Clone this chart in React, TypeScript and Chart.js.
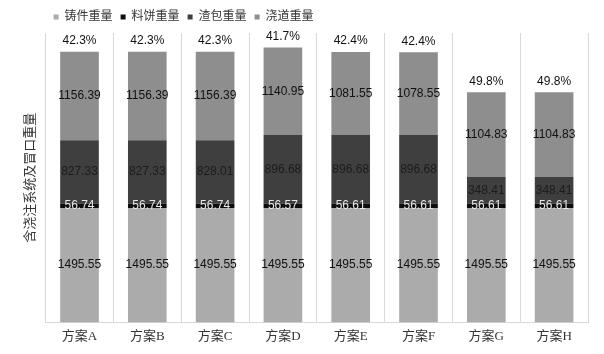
import React, { useEffect, useRef } from "react";
import { Chart, registerables } from "chart.js";

Chart.register(...registerables);

const categories = ["方案A", "方案B", "方案C", "方案D", "方案E", "方案F", "方案G", "方案H"];
const castingWeight = [1495.55, 1495.55, 1495.55, 1495.55, 1495.55, 1495.55, 1495.55, 1495.55];
const biscuitWeight = [56.74, 56.74, 56.74, 56.57, 56.61, 56.61, 56.61, 56.61];
const overflowWeight = [827.33, 827.33, 828.01, 896.68, 896.68, 896.68, 348.41, 348.41];
const runnerWeight = [1156.39, 1156.39, 1156.39, 1140.95, 1081.55, 1078.55, 1104.83, 1104.83];
const yieldLabels = ["42.3%", "42.3%", "42.3%", "41.7%", "42.4%", "42.4%", "49.8%", "49.8%"];
const seriesNames = ["铸件重量", "料饼重量", "渣包重量", "浇道重量"];
const yAxisTitle = "含浇注系统及冒口重量";

const seriesColors = ["#ababab", "#0d0d0d", "#3f3f3f", "#8e8e8e"];
const labelColors = ["#111111", "#e8e8e8", "#1c1c1c", "#111111"];

const serifFamily = '"Liberation Serif", "Times New Roman", "Noto Sans CJK SC", serif';
const legendPadding = 8;

const labelPlugin = {
  id: "segLabels",
  afterDatasetsDraw(chart: any) {
    const ctx = chart.ctx;
    ctx.save();
    ctx.font = '12px "Liberation Sans", Arial, sans-serif';
    ctx.textAlign = "center";
    ctx.textBaseline = "middle";
    chart.data.datasets.forEach((ds: any, di: number) => {
      const meta = chart.getDatasetMeta(di);
      meta.data.forEach((bar: any, i: number) => {
        const p = bar.getProps(["x", "y", "base"], true);
        ctx.fillStyle = labelColors[di];
        ctx.fillText(Number(ds.data[i]).toFixed(2), p.x, (p.y + p.base) / 2);
      });
    });
    const topMeta = chart.getDatasetMeta(chart.data.datasets.length - 1);
    topMeta.data.forEach((bar: any, i: number) => {
      const p = bar.getProps(["x", "y"], true);
      ctx.fillStyle = "#111111";
      ctx.fillText(yieldLabels[i], p.x, p.y - 11);
    });
    ctx.restore();
  },
};

const legendShift = {
  id: "legendShift",
  afterLayout(chart: any) {
    const lg = chart.legend;
    if (lg) {
      const w = lg.right - lg.left;
      lg.left = chart.chartArea.left;
      lg.right = lg.left + w;
    }
  },
};

export default function App() {
  const ref = useRef<HTMLCanvasElement | null>(null);
  useEffect(() => {
    if (!ref.current) return;
    const data = [castingWeight, biscuitWeight, overflowWeight, runnerWeight];
    const chart = new Chart(ref.current, {
      type: "bar",
      data: {
        labels: categories,
        datasets: data.map((d, i) => ({
          label: seriesNames[i],
          data: d,
          backgroundColor: seriesColors[i],
          borderWidth: 0,
          barPercentage: 0.57,
          categoryPercentage: 1,
        })),
      },
      options: {
        responsive: false,
        animation: false,
        layout: { padding: { left: 19, right: 16, top: 3, bottom: 4 } },
        plugins: {
          legend: {
            position: "top",
            align: "start",
            fullSize: false,
            labels: {
              boxWidth: 5,
              boxHeight: 5,
              padding: legendPadding,
              color: "#333333",
              font: { family: serifFamily, size: 12 },
            },
          },
          tooltip: { enabled: false },
        },
        scales: {
          x: {
            stacked: true,
            grid: { display: true, offset: true, color: "#d9d9d9", drawTicks: false },
            border: { display: true, color: "#d9d9d9" },
            ticks: { color: "#333333", padding: 6, font: { family: serifFamily, size: 13 } },
          },
          y: {
            stacked: true,
            min: 0,
            max: 3780,
            grid: { display: false, drawTicks: false },
            border: { display: false },
            ticks: { display: false },
            title: {
              display: true,
              text: yAxisTitle,
              color: "#333333",
              font: { family: serifFamily, size: 13 },
              padding: { top: 4, bottom: 7 },
            },
          },
        },
      },
      plugins: [labelPlugin, legendShift],
    });
    return () => chart.destroy();
  }, []);
  return (
    <div style={{ position: "absolute", left: 0, top: 0, width: 604, height: 354, background: "#fff" }}>
      <canvas ref={ref} width={604} height={354} />
    </div>
  );
}
